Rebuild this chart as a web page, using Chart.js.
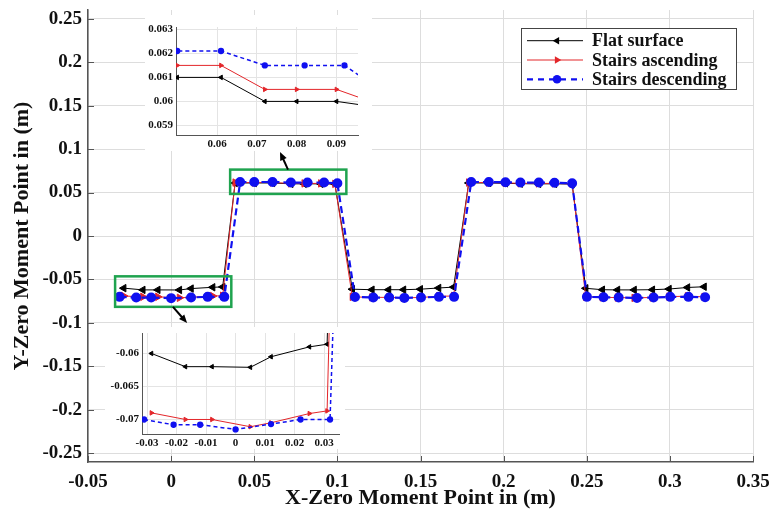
<!DOCTYPE html>
<html lang="en">
<head>
<meta charset="UTF-8">
<title>ZMP trajectory</title>
<script src="https://cdn.jsdelivr.net/npm/chart.js@4.4.1/dist/chart.umd.min.js"></script>
<style>
    body { margin: 0; background: #fff; }
    #wrap { position: relative; width: 769px; height: 517px; }
    #wrap canvas { position: absolute; left: 0; top: 0; }
    .inset { position: absolute; background: #fff; }
</style>
</head>
<body>
<div id="wrap">
    <canvas id="main" width="769" height="517"></canvas>
    <div class="inset" style="left:145px;top:15px;width:227px;height:136px;">
        <canvas id="inset_top" width="227" height="136"></canvas>
    </div>
    <div class="inset" style="left:105px;top:327px;width:240px;height:122px;">
        <canvas id="inset_bot" width="240" height="122"></canvas>
    </div>
</div>
<script>
    // series names
    const seriesNames = ['Flat surface', 'Stairs ascending', 'Stairs descending'];

    // flat surface
    const xFlat = [-0.0285, -0.0170, -0.0080, 0.0050, 0.0120, 0.0250, 0.0310,
        0.0385, 0.0500, 0.0610, 0.0720, 0.0800, 0.0900, 0.0985,
        0.1090, 0.1208, 0.1308, 0.1398, 0.1499, 0.1609, 0.1699,
        0.1790, 0.1910, 0.2010, 0.2100, 0.2210, 0.2306, 0.2412,
        0.2494, 0.2594, 0.2685, 0.2785, 0.2895, 0.2995, 0.3106, 0.3206];
    const yFlat = [-0.0600, -0.0620, -0.0620, -0.0621, -0.0605, -0.0590, -0.0586,
        0.0610, 0.0610, 0.0610, 0.0600, 0.0600, 0.0600, 0.0598,
        -0.0612, -0.0618, -0.0618, -0.0618, -0.0612, -0.0598, -0.0588,
        0.0610, 0.0610, 0.0606, 0.0602, 0.0600, 0.0600, 0.0598,
        -0.0602, -0.0618, -0.0620, -0.0620, -0.0618, -0.0610, -0.0592, -0.0584];

    // stairs ascending
    const xAsc = [-0.0285, -0.0170, -0.0080, 0.0050, 0.0120, 0.0250, 0.0310,
        0.0385, 0.0500, 0.0610, 0.0720, 0.0800, 0.0900, 0.0985,
        0.1090, 0.1208, 0.1308, 0.1398, 0.1499, 0.1609, 0.1699,
        0.1790, 0.1910, 0.2010, 0.2100, 0.2210, 0.2306, 0.2412,
        0.2494, 0.2594, 0.2685, 0.2785, 0.2895, 0.2995, 0.3106, 0.3206];
    const yAsc = [-0.0690, -0.0700, -0.0700, -0.0711, -0.0705, -0.0691, -0.0687,
        0.0615, 0.0615, 0.0615, 0.0605, 0.0605, 0.0605, 0.0600,
        -0.0700, -0.0706, -0.0706, -0.0712, -0.0707, -0.0694, -0.0690,
        0.0615, 0.0615, 0.0611, 0.0606, 0.0605, 0.0605, 0.0600,
        -0.0698, -0.0706, -0.0708, -0.0712, -0.0707, -0.0697, -0.0693, -0.0700];

    // stairs descending
    const xDesc = [-0.0310, -0.0210, -0.0120, 0.0000, 0.0120, 0.0220, 0.0320,
        0.0415, 0.0500, 0.0610, 0.0720, 0.0820, 0.0920, 0.1000,
        0.1106, 0.1216, 0.1312, 0.1403, 0.1503, 0.1611, 0.1702,
        0.1805, 0.1911, 0.2011, 0.2101, 0.2212, 0.2306, 0.2412,
        0.2501, 0.2601, 0.2692, 0.2802, 0.2902, 0.3002, 0.3112, 0.3212];
    const yDesc = [-0.0700, -0.0708, -0.0708, -0.0715, -0.0707, -0.0700, -0.0700,
        0.0621, 0.0621, 0.0621, 0.0615, 0.0615, 0.0615, 0.0606,
        -0.0702, -0.0708, -0.0708, -0.0712, -0.0708, -0.0700, -0.0700,
        0.0621, 0.0621, 0.0618, 0.0615, 0.0615, 0.0613, 0.0606,
        -0.0700, -0.0705, -0.0708, -0.0712, -0.0708, -0.0700, -0.0700, -0.0705];

    // tick labels
    const xTicksMain = [-0.05, 0, 0.05, 0.1, 0.15, 0.2, 0.25, 0.3, 0.35];
    const yTicksMain = [-0.25, -0.2, -0.15, -0.1, -0.05, 0, 0.05, 0.1, 0.15, 0.2, 0.25];
    const xTicksTop = [0.06, 0.07, 0.08, 0.09];
    const yTicksTop = [0.059, 0.06, 0.061, 0.062, 0.063];
    const xTicksBot = [-0.03, -0.02, -0.01, 0, 0.01, 0.02, 0.03];
    const yTicksBot = [-0.07, -0.065, -0.06];

    // zoom boxes [xmin, xmax, ymin, ymax] and arrows [x0, y0, x1, y1] in data units
    const boxLow = [-0.0337, 0.0362, -0.0815, -0.0464];
    const boxHigh = [0.0355, 0.1054, 0.0484, 0.0764];
    const arrowHigh = [0.0703, 0.0764, 0.0655, 0.0967];
    const arrowLow = [0.0011, -0.0815, 0.0096, -0.1001];

    const SERIF = "'Liberation Serif', 'Times New Roman', serif";
    const colors = ['#000000', '#e3262a', '#1010f0'];

    function pts(xs, ys) {
        return xs.map(function (x, i) { return { x: x, y: ys[i] }; });
    }

    function fmt(v) {
        return String(Number(Number(v).toFixed(4)));
    }

    function fixTicks(arr) {
        return function (s) { s.ticks = arr.map(function (v) { return { value: v }; }); };
    }

    function mkSets(big) {
        const r = big ? 4.3 : 2.6;
        return [{
            label: seriesNames[0], data: pts(xFlat, yFlat), showLine: true,
            borderColor: colors[0], backgroundColor: colors[0], borderWidth: 1,
            pointStyle: 'triangle', pointRotation: -90, pointRadius: r, order: 2
        }, {
            label: seriesNames[1], data: pts(xAsc, yAsc), showLine: true,
            borderColor: colors[1], backgroundColor: colors[1], borderWidth: 1,
            pointStyle: 'triangle', pointRotation: 90, pointRadius: r, order: 1
        }, {
            label: seriesNames[2], data: pts(xDesc, yDesc), showLine: true,
            borderColor: colors[2], backgroundColor: colors[2], borderWidth: big ? 2.2 : 1.5,
            borderDash: big ? [7, 4] : [4, 3],
            pointStyle: 'circle', pointRadius: big ? 3.9 : 2.4, order: 0
        }];
    }

    function drawMarker(ctx, style, rot, r, x, y, color) {
        ctx.save();
        ctx.setLineDash([]);
        ctx.fillStyle = color;
        ctx.beginPath();
        if (style === 'circle') {
            ctx.arc(x, y, r, 0, Math.PI * 2);
        } else {
            const a = rot * Math.PI / 180;
            for (let k = 0; k < 3; k++) {
                const t = a + k * 2 * Math.PI / 3;
                const px = x + Math.sin(t) * r, py = y - Math.cos(t) * r;
                if (k == 0) ctx.moveTo(px, py); else ctx.lineTo(px, py);
            }
            ctx.closePath();
        }
        ctx.fill();
        ctx.restore();
    }

    function arrow(ctx, sx, sy, a) {
        const x0 = sx.getPixelForValue(a[0]), y0 = sy.getPixelForValue(a[1]);
        const x1 = sx.getPixelForValue(a[2]), y1 = sy.getPixelForValue(a[3]);
        const ang = Math.atan2(y1 - y0, x1 - x0);
        ctx.strokeStyle = '#000';
        ctx.fillStyle = '#000';
        ctx.lineWidth = 2;
        ctx.beginPath();
        ctx.moveTo(x0, y0);
        ctx.lineTo(x1 - Math.cos(ang) * 5, y1 - Math.sin(ang) * 5);
        ctx.stroke();
        ctx.beginPath();
        ctx.moveTo(x1, y1);
        ctx.lineTo(x1 - 9 * Math.cos(ang - 0.4), y1 - 9 * Math.sin(ang - 0.4));
        ctx.lineTo(x1 - 9 * Math.cos(ang + 0.4), y1 - 9 * Math.sin(ang + 0.4));
        ctx.closePath();
        ctx.fill();
    }

    const decor = {
        id: 'decor',
        afterDatasetsDraw: function (chart) {
            const ctx = chart.ctx, sx = chart.scales.x, sy = chart.scales.y;
            const area = chart.chartArea;
            ctx.save();
            // inward tick marks
            ctx.strokeStyle = '#555';
            ctx.lineWidth = 1;
            ctx.beginPath();
            xTicksMain.forEach(function (v) {
                const p = Math.round(sx.getPixelForValue(v)) + 0.5;
                ctx.moveTo(p, area.bottom); ctx.lineTo(p, area.bottom - 6);
            });
            yTicksMain.forEach(function (v) {
                const p = Math.round(sy.getPixelForValue(v)) + 0.5;
                ctx.moveTo(area.left, p); ctx.lineTo(area.left + 6, p);
            });
            ctx.stroke();
            // zoom boxes
            ctx.strokeStyle = '#1fa34f';
            ctx.lineWidth = 2.5;
            [boxLow, boxHigh].forEach(function (b) {
                const l = sx.getPixelForValue(b[0]), r = sx.getPixelForValue(b[1]);
                const t = sy.getPixelForValue(b[3]), bt = sy.getPixelForValue(b[2]);
                ctx.strokeRect(l, t, r - l, bt - t);
            });
            arrow(ctx, sx, sy, arrowHigh);
            arrow(ctx, sx, sy, arrowLow);
            ctx.restore();
        },
        afterDraw: function (chart) {
            // legend box
            const ctx = chart.ctx;
            const bx = 521, by = 28, bw = 215, bh = 61;
            ctx.save();
            ctx.fillStyle = '#fff';
            ctx.fillRect(bx, by, bw, bh);
            ctx.strokeStyle = '#444';
            ctx.lineWidth = 1;
            ctx.strokeRect(bx + 0.5, by + 0.5, bw, bh);
            chart.data.datasets.forEach(function (ds, i) {
                const cy = by + 12.7 + i * 19.3;
                ctx.strokeStyle = ds.borderColor;
                ctx.lineWidth = ds.borderWidth;
                ctx.setLineDash(ds.borderDash ? [6, 5] : []);
                ctx.beginPath();
                ctx.moveTo(527, cy); ctx.lineTo(583, cy);
                ctx.stroke();
                drawMarker(ctx, ds.pointStyle, ds.pointRotation || 0, 4.3, 557, cy, ds.borderColor);
                ctx.fillStyle = '#111';
                ctx.font = 'bold 18px ' + SERIF;
                ctx.textBaseline = 'middle';
                ctx.fillText(ds.label, 592, cy + 1);
            });
            ctx.restore();
        }
    };

    new Chart(document.getElementById('main'), {
        type: 'scatter',
        data: { datasets: mkSets(true) },
        options: {
            responsive: false,
            animation: false,
            layout: { padding: { top: 10, right: 16, left: 0, bottom: 0 } },
            plugins: { legend: { display: false }, tooltip: { enabled: false } },
            scales: {
                x: {
                    type: 'linear', min: -0.05, max: 0.35,
                    afterBuildTicks: fixTicks(xTicksMain),
                    afterFit: function (s) { s.height = 55; s.paddingLeft = 0; s.paddingRight = 0; },
                    grid: { color: '#dddddd', lineWidth: 1, drawTicks: false },
                    border: { color: '#555', width: 1.5 },
                    ticks: { padding: 9, color: '#111', font: { family: SERIF, size: 19, weight: 'bold' }, callback: fmt },
                    title: {
                        display: true, text: 'X-Zero Moment Point in (m)', color: '#111',
                        font: { family: SERIF, size: 22, weight: 'bold' }, padding: { top: 0, bottom: 5 }
                    }
                },
                y: {
                    type: 'linear', min: -0.26, max: 0.26,
                    afterBuildTicks: fixTicks(yTicksMain),
                    afterFit: function (s) { s.width = 88; s.paddingTop = 0; s.paddingBottom = 0; },
                    grid: { color: '#dddddd', lineWidth: 1, drawTicks: false },
                    border: { color: '#555', width: 1.5 },
                    ticks: { padding: 6, color: '#111', font: { family: SERIF, size: 19, weight: 'bold' }, callback: fmt },
                    title: {
                        display: true, text: 'Y-Zero Moment Point in (m)', color: '#111',
                        font: { family: SERIF, size: 22, weight: 'bold' }, padding: { top: 9, bottom: 0 }
                    }
                }
            }
        },
        plugins: [decor]
    });

    function inset(id, xr, yr, xt, yt, yw, xh, pad) {
        new Chart(document.getElementById(id), {
            type: 'scatter',
            data: { datasets: mkSets(false) },
            options: {
                responsive: false,
                animation: false,
                layout: { padding: pad },
                plugins: { legend: { display: false }, tooltip: { enabled: false } },
                scales: {
                    x: {
                        type: 'linear', min: xr[0], max: xr[1],
                        afterBuildTicks: fixTicks(xt),
                        afterFit: function (s) { s.height = xh; s.paddingLeft = 0; s.paddingRight = 0; },
                        grid: { color: '#e4e4e4', lineWidth: 1, drawTicks: false },
                        border: { color: '#555', width: 1 },
                        ticks: { padding: 3, color: '#111', font: { family: SERIF, size: 11, weight: 'bold' }, callback: fmt }
                    },
                    y: {
                        type: 'linear', min: yr[0], max: yr[1],
                        afterBuildTicks: fixTicks(yt),
                        afterFit: function (s) { s.width = yw; s.paddingTop = 0; s.paddingBottom = 0; },
                        grid: { color: '#e4e4e4', lineWidth: 1, drawTicks: false },
                        border: { color: '#555', width: 1 },
                        ticks: { padding: 3, color: '#111', font: { family: SERIF, size: 11, weight: 'bold' }, callback: fmt }
                    }
                }
            }
        });
    }

    inset('inset_top', [0.0497, 0.0954], [0.0586, 0.0631], xTicksTop, yTicksTop, 31, 16,
        { top: 12, right: 14, left: 0, bottom: 0 });
    inset('inset_bot', [-0.0317, 0.0352], [-0.0722, -0.0569], xTicksBot, yTicksBot, 37, 15,
        { top: 6, right: 3, left: 0, bottom: 0 });
</script>
</body>
</html>
